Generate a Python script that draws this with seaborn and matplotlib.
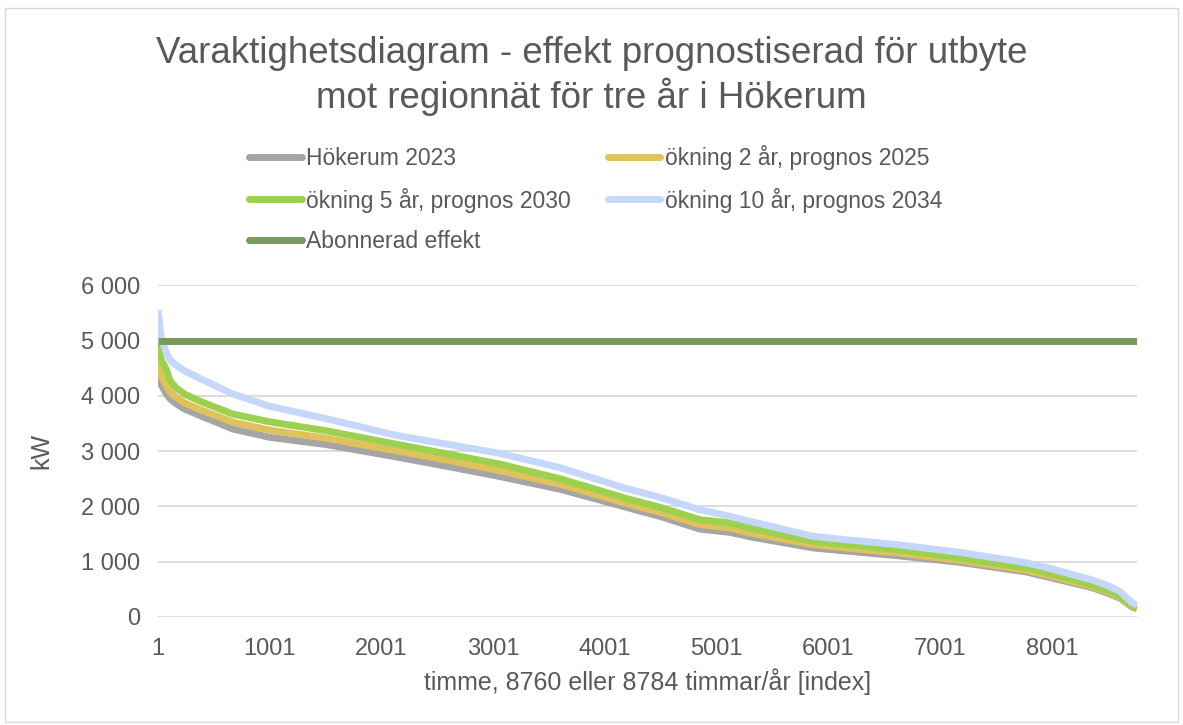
#!/usr/bin/env python3
"""
Varaktighetsdiagram Hökerum - effekt mot regionnät
"""

import matplotlib
matplotlib.use('Agg')
import matplotlib.pyplot as plt
from matplotlib.patches import Rectangle
from matplotlib.ticker import FuncFormatter
import seaborn as sns
import pandas as pd

# timindex (sorterad varaktighet) där kurvorna avlästs
HOURS = [1, 30, 70, 110, 160, 240, 380, 670, 1000, 1500, 2120, 2600, 3060, 3600,
         4180, 4500, 4850, 5120, 5300, 5860, 6200, 6610, 7170, 7770, 8000,
         8360, 8500, 8610, 8720, 8760]

HOKERUM_2023 = [4450, 4200, 4050, 3945, 3860, 3760, 3640, 3400, 3250, 3120, 2900, 2720,
                2540, 2310, 1990, 1815, 1590, 1530, 1450, 1250, 1185, 1110, 990,
                815, 705, 530, 430, 340, 175, 150]
PROGNOS_2025 = [4600, 4350, 4200, 4070, 3980, 3870, 3750, 3525, 3380, 3235, 3010, 2835,
                2645, 2400, 2060, 1890, 1670, 1610, 1520, 1310, 1240, 1160, 1025,
                845, 735, 550, 455, 355, 185, 160]
PROGNOS_2030 = [4950, 4650, 4500, 4270, 4150, 4030, 3900, 3670, 3530, 3370, 3130, 2945,
                2765, 2500, 2150, 1980, 1760, 1700, 1610, 1370, 1300, 1220, 1070,
                890, 780, 580, 480, 380, 190, 170]
PROGNOS_2034 = [5550, 5050, 4800, 4640, 4560, 4450, 4310, 4035, 3810, 3590, 3290, 3120,
                2960, 2700, 2330, 2160, 1940, 1820, 1730, 1460, 1390, 1310, 1170,
                980, 870, 670, 565, 460, 250, 220]

ABON_HOURS = [1, 8760]
ABONNERAD_KW = [5000, 5000]

SERIES = ['Hökerum 2023', 'ökning 2 år, prognos 2025',
          'ökning 5 år, prognos 2030', 'ökning 10 år, prognos 2034',
          'Abonnerad effekt']
COLORS = ['#A5A5A5', '#DFC25B', '#9CD14F', '#C5D7FA', '#789B5F']

X_TICKS = [1, 1001, 2001, 3001, 4001, 5001, 6001, 7001, 8001]
Y_TICKS = [0, 1000, 2000, 3000, 4000, 5000, 6000]

TITLE = 'Varaktighetsdiagram - effekt prognostiserad för utbyte\nmot regionnät för tre år i Hökerum'
TEXT = '#595959'
GRID = '#D9D9D9'

rows = []
for name, vals in zip(SERIES[:4], [HOKERUM_2023, PROGNOS_2025, PROGNOS_2030, PROGNOS_2034]):
    rows += [{'timme': h, 'kW': v, 'serie': name} for h, v in zip(HOURS, vals)]
rows += [{'timme': h, 'kW': v, 'serie': SERIES[4]} for h, v in zip(ABON_HOURS, ABONNERAD_KW)]
df = pd.DataFrame(rows)

sns.set_theme(style='white')
plt.rcParams['font.family'] = ['Liberation Sans', 'DejaVu Sans']

fig = plt.figure(figsize=(11.83, 7.25), dpi=100)
ax = fig.add_axes([0.1336, 0.149, 0.961 - 0.1336, 0.6065 - 0.149])

sns.lineplot(data=df, x='timme', y='kW', hue='serie', hue_order=SERIES,
             palette=COLORS, estimator=None, linewidth=5, ax=ax,
             solid_capstyle='butt', solid_joinstyle='round', legend=False)

ax.set_xlim(1, 8760)
ax.set_ylim(0, 6000)
ax.set_xticks(X_TICKS)
ax.set_yticks(Y_TICKS)
ax.yaxis.set_major_formatter(FuncFormatter(lambda v, p: f'{int(v):,}'.replace(',', ' ')))
ax.grid(axis='y', color=GRID, linewidth=1.3)
ax.set_axisbelow(True)
for s in ax.spines.values():
    s.set_visible(False)
ax.tick_params(axis='y', length=0, labelsize=17, colors=TEXT, pad=13)
ax.tick_params(axis='x', length=0, labelsize=17, colors=TEXT, pad=15)
ax.set_xlabel('timme, 8760 eller 8784 timmar/år [index]', fontsize=18, color=TEXT, labelpad=6)
ax.set_ylabel('kW', fontsize=18, color=TEXT, labelpad=20)

fig.suptitle(TITLE, fontsize=26.5, color=TEXT, y=0.951, linespacing=1.22)

# legend i Excel-ordning (radvis)
handles = [plt.Line2D([], [], color=c, linewidth=5) for c in COLORS]
order = [0, 2, 4, 1, 3]
fig.legend([handles[i] for i in order], [SERIES[i] for i in order],
           ncol=2, loc='upper left', bbox_to_anchor=(0.193, 0.828), frameon=False,
           fontsize=16.5, labelcolor=TEXT, handlelength=2.3, handletextpad=0.2,
           columnspacing=1.6, labelspacing=0.75)

fig.patches.append(Rectangle((0.004, 0.004), 0.992, 0.985, transform=fig.transFigure,
                             fill=False, edgecolor=GRID, linewidth=1))

plt.savefig('out.png', dpi=100)
